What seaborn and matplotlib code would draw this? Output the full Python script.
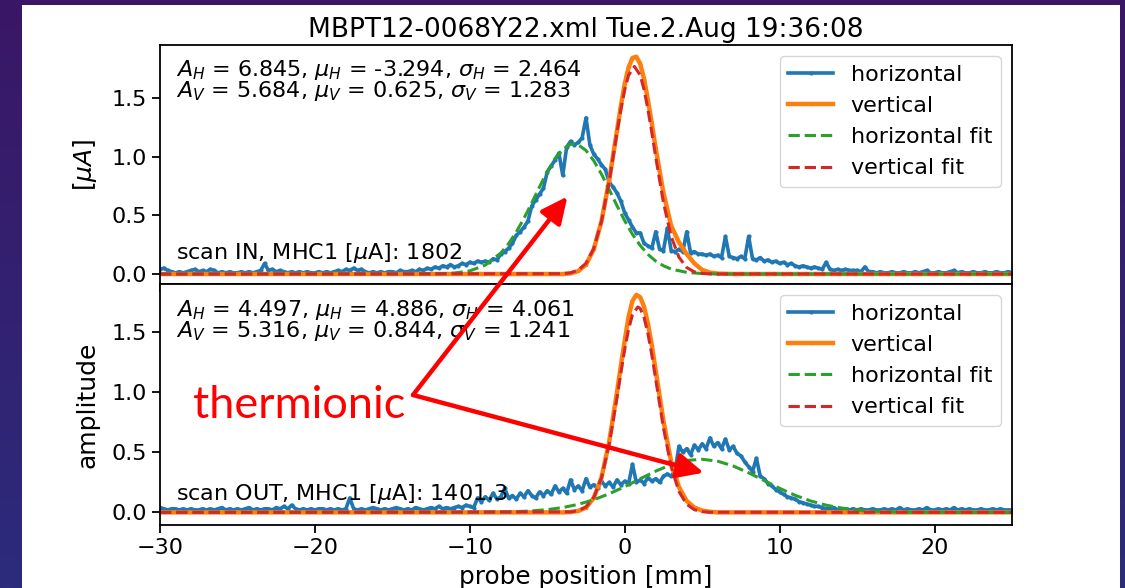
import numpy as np
import matplotlib
matplotlib.use("Agg")
import matplotlib.pyplot as plt
from matplotlib.patches import Rectangle
from matplotlib.colors import LinearSegmentedColormap
import seaborn as sns

# ---------------- data ----------------
probe_start, probe_stop = -30.0, 25.0   # probe positions of the raw samples (0.25 mm step)

horiz_in = [
    0.04, 0.05, 0.03, 0.02,   # -30
    0.01, 0.02, 0.01, 0.02,   # -29
    0.03, 0.04, 0.02, 0.03,   # -28
    0.02, 0.04, 0.03, 0.01,   # -27
    0.02, 0.01, 0.02, 0.01,   # -26
    0.01, 0.02, 0.01, 0.02,   # -25
    0.01, 0.02, 0.03, 0.09,   # -24
    0.03, 0.04, 0.02, 0.03,   # -23
    0.02, 0.01, 0.02, 0.01,   # -22
    0.02, 0.01, 0.02, 0.01,   # -21
    0.01, 0.02, 0.01, 0.02,   # -20
    0.01, 0.02, 0.03, 0.02,   # -19
    0.04, 0.03, 0.05, 0.03,   # -18
    0.04, 0.02, 0.01, 0.02,   # -17
    0.01, 0.02, 0.01, 0.02,   # -16
    0.02, 0.01, 0.03, 0.02,   # -15
    0.02, 0.03, 0.02, 0.04,   # -14
    0.03, 0.05, 0.04, 0.06,   # -13
    0.05, 0.07, 0.06, 0.08,   # -12
    0.06, 0.07, 0.09, 0.08,   # -11
    0.10, 0.09, 0.11, 0.10,   # -10
    0.11, 0.10, 0.13, 0.12,   # -9
    0.17, 0.19, 0.22, 0.26,   # -8
    0.33, 0.36, 0.40, 0.45,   # -7
    0.58, 0.63, 0.68, 0.73,   # -6
    0.87, 0.92, 0.97, 1.03,   # -5
    0.84, 1.08, 1.13, 1.10,   # -4
    1.12, 1.16, 1.33, 1.10,   # -3
    1.02, 0.98, 0.93, 0.89,   # -2
    0.78, 0.74, 0.69, 0.62,   # -1
    0.52, 0.46, 0.40, 0.35,   # 0
    0.35, 0.26, 0.24, 0.22,   # 1
    0.36, 0.21, 0.20, 0.39,   # 2
    0.20, 0.19, 0.21, 0.19,   # 3
    0.36, 0.18, 0.19, 0.17,   # 4
    0.17, 0.16, 0.17, 0.15,   # 5
    0.16, 0.14, 0.32, 0.15,   # 6
    0.14, 0.13, 0.15, 0.13,   # 7
    0.32, 0.13, 0.12, 0.14,   # 8
    0.11, 0.12, 0.10, 0.11,   # 9
    0.09, 0.10, 0.08, 0.09,   # 10
    0.07, 0.06, 0.07, 0.06,   # 11
    0.05, 0.06, 0.05, 0.04,   # 12
    0.10, 0.04, 0.03, 0.04,   # 13
    0.03, 0.04, 0.03, 0.03,   # 14
    0.03, 0.02, 0.06, 0.02,   # 15
    0.02, 0.01, 0.02, 0.01,   # 16
    0.01, 0.02, 0.01, 0.01,   # 17
    0.02, 0.01, 0.01, 0.02,   # 18
    0.01, 0.02, 0.03, 0.01,   # 19
    0.01, 0.02, 0.01, 0.01,   # 20
    0.02, 0.03, 0.01, 0.02,   # 21
    0.01, 0.01, 0.02, 0.01,   # 22
    0.01, 0.02, 0.01, 0.01,   # 23
    0.02, 0.01, 0.01, 0.02,   # 24
    0.01,                     # 25
]

horiz_out = [
    0.04, 0.03, 0.02, 0.03,   # -30
    0.03, 0.02, 0.03, 0.02,   # -29
    0.03, 0.02, 0.02, 0.03,   # -28
    0.02, 0.03, 0.02, 0.03,   # -27
    0.04, 0.02, 0.03, 0.02,   # -26
    0.03, 0.02, 0.03, 0.04,   # -25
    0.02, 0.03, 0.02, 0.03,   # -24
    0.03, 0.02, 0.04, 0.03,   # -23
    0.05, 0.03, 0.06, 0.03,   # -22
    0.02, 0.03, 0.02, 0.03,   # -21
    0.02, 0.03, 0.03, 0.02,   # -20
    0.03, 0.02, 0.03, 0.02,   # -19
    0.03, 0.12, 0.03, 0.02,   # -18
    0.03, 0.02, 0.03, 0.04,   # -17
    0.03, 0.02, 0.03, 0.02,   # -16
    0.03, 0.04, 0.03, 0.02,   # -15
    0.03, 0.02, 0.04, 0.03,   # -14
    0.02, 0.03, 0.04, 0.03,   # -13
    0.05, 0.03, 0.04, 0.03,   # -12
    0.04, 0.05, 0.04, 0.06,   # -11
    0.05, 0.04, 0.12, 0.09,   # -10
    0.13, 0.10, 0.16, 0.11,   # -9
    0.13, 0.20, 0.12, 0.14,   # -8
    0.11, 0.16, 0.13, 0.18,   # -7
    0.14, 0.12, 0.17, 0.14,   # -6
    0.18, 0.15, 0.22, 0.17,   # -5
    0.20, 0.16, 0.27, 0.19,   # -4
    0.22, 0.18, 0.28, 0.21,   # -3
    0.23, 0.20, 0.26, 0.22,   # -2
    0.25, 0.21, 0.27, 0.23,   # -1
    0.26, 0.24, 0.40, 0.25,   # 0
    0.27, 0.24, 0.29, 0.26,   # 1
    0.28, 0.25, 0.30, 0.32,   # 2
    0.30, 0.35, 0.55, 0.50,   # 3
    0.53, 0.48, 0.56, 0.52,   # 4
    0.57, 0.53, 0.62, 0.55,   # 5
    0.58, 0.53, 0.61, 0.52,   # 6
    0.55, 0.49, 0.47, 0.42,   # 7
    0.38, 0.34, 0.45, 0.30,   # 8
    0.28, 0.24, 0.22, 0.19,   # 9
    0.17, 0.15, 0.13, 0.12,   # 10
    0.11, 0.09, 0.08, 0.07,   # 11
    0.06, 0.05, 0.05, 0.04,   # 12
    0.03, 0.03, 0.04, 0.02,   # 13
    0.02, 0.03, 0.02, 0.03,   # 14
    0.02, 0.03, 0.02, 0.02,   # 15
    0.03, 0.02, 0.02, 0.03,   # 16
    0.02, 0.03, 0.02, 0.04,   # 17
    0.02, 0.03, 0.02, 0.02,   # 18
    0.03, 0.02, 0.04, 0.02,   # 19
    0.02, 0.03, 0.02, 0.03,   # 20
    0.02, 0.04, 0.02, 0.03,   # 21
    0.02, 0.03, 0.02, 0.02,   # 22
    0.03, 0.02, 0.02, 0.03,   # 23
    0.02, 0.03, 0.02, 0.02,   # 24
    0.02,                     # 25
]

vert_in_x = [-30, -4, -3.5, -3, -2.5, -2, -1.5, -1, -0.5, -0.25, 0, 0.25, 0.5, 0.75,
             1, 1.25, 1.5, 1.75, 2, 2.5, 3, 3.5, 4, 4.5, 5, 5.5, 6, 7, 25]
vert_in = [0, 0, 0.005, 0.025, 0.08, 0.21, 0.45, 0.80, 1.22, 1.43, 1.62, 1.76, 1.84, 1.85,
           1.79, 1.66, 1.48, 1.28, 1.07, 0.69, 0.41, 0.27, 0.17, 0.09, 0.035, 0.012, 0.004, 0, 0]

vert_out_x = [-30, -4, -3.5, -3, -2.5, -2, -1.5, -1, -0.5, -0.25, 0, 0.25, 0.5, 0.75,
              1, 1.25, 1.5, 1.75, 2, 2.5, 3, 3.5, 4, 4.5, 5, 5.5, 6, 25]
vert_out = [0, 0, 0.003, 0.012, 0.04, 0.12, 0.29, 0.59, 1.00, 1.22, 1.43, 1.63, 1.76, 1.81,
            1.79, 1.71, 1.57, 1.39, 1.18, 0.76, 0.42, 0.21, 0.095, 0.04, 0.015, 0.005, 0, 0]

hfit_in_x = [-30, -14, -13, -12, -11, -10, -9, -8, -7.5, -7, -6.5, -6, -5.5, -5, -4.5, -4,
             -3.5, -3.294, -3, -2.5, -2, -1.5, -1, -0.5, 0, 0.5, 1, 1.5, 2, 2.5, 3, 4, 5, 6, 8, 25]
hfit_in = [0, 0.0001, 0.0005, 0.002, 0.008, 0.027, 0.076, 0.179, 0.258, 0.358, 0.475, 0.606,
           0.742, 0.872, 0.983, 1.063, 1.104, 1.108, 1.100, 1.052, 0.965, 0.850, 0.718, 0.582,
           0.453, 0.338, 0.243, 0.167, 0.110, 0.070, 0.042, 0.014, 0.004, 0.001, 0, 0]

vfit_in_x = [-30, -4, -3.5, -3, -2.5, -2, -1.5, -1, -0.5, -0.25, 0, 0.25, 0.625, 1, 1.25,
             1.5, 1.75, 2, 2.5, 3, 3.5, 4, 4.5, 5, 5.5, 25]
vfit_in = [0, 0.003, 0.010, 0.033, 0.091, 0.218, 0.449, 0.792, 1.203, 1.400, 1.569, 1.693,
           1.767, 1.693, 1.569, 1.400, 1.203, 0.995, 0.607, 0.319, 0.143, 0.055, 0.018, 0.005,
           0.001, 0]

hfit_out_x = [-30, -12, -10, -8, -7, -6, -5, -4, -3, -2, -1, 0, 1, 2, 3, 4, 5, 6, 7, 8, 9,
              10, 11, 12, 13, 14, 15, 16, 17, 18, 20, 22, 25]
hfit_out = [0, 0.0001, 0.0005, 0.003, 0.006, 0.012, 0.023, 0.040, 0.067, 0.105, 0.155, 0.214,
            0.280, 0.343, 0.397, 0.432, 0.442, 0.426, 0.386, 0.329, 0.265, 0.200, 0.142, 0.095,
            0.060, 0.036, 0.020, 0.010, 0.005, 0.002, 0.0004, 0.0001, 0]

vfit_out_x = [-30, -3.5, -3, -2.5, -2, -1.5, -1, -0.5, -0.25, 0, 0.25, 0.5, 0.844, 1, 1.25,
              1.5, 1.75, 2, 2.5, 3, 3.5, 4, 4.5, 5, 5.5, 25]
vfit_out = [0, 0.004, 0.014, 0.045, 0.124, 0.287, 0.567, 0.951, 1.159, 1.356, 1.524, 1.645,
            1.709, 1.696, 1.620, 1.486, 1.309, 1.107, 0.702, 0.378, 0.173, 0.067, 0.022, 0.006,
            0.001, 0]

title = "MBPT12-0068Y22.xml Tue.2.Aug 19:36:08"
params_in = [r"$A_H$ = 6.845, $\mu_H$ = -3.294, $\sigma_H$ = 2.464",
             r"$A_V$ = 5.684, $\mu_V$ = 0.625, $\sigma_V$ = 1.283"]
params_out = [r"$A_H$ = 4.497, $\mu_H$ = 4.886, $\sigma_H$ = 4.061",
              r"$A_V$ = 5.316, $\mu_V$ = 0.844, $\sigma_V$ = 1.241"]
scan_in = r"scan IN, MHC1 [$\mu$A]: 1802"
scan_out = r"scan OUT, MHC1 [$\mu$A]: 1401.3"
legend_labels = ["horizontal", "vertical", "horizontal fit", "vertical fit"]
x_ticks = [-30, -20, -10, 0, 10, 20]
y_ticks = [0.0, 0.5, 1.0, 1.5]

# ---------------- style ----------------
plt.rcParams.update({
    "font.size": 16,
    "axes.linewidth": 1.3,
    "xtick.major.size": 5.6, "ytick.major.size": 5.6,
    "xtick.major.width": 1.3, "ytick.major.width": 1.3,
    "legend.fontsize": 16,
})
plt.rcParams["font.family"] = ["DejaVu Sans"]

W, H = 1125, 588
fig = plt.figure(figsize=(W / 100, H / 100), dpi=100)

# slide background (purple gradient) and white plot card
bg = fig.add_axes([0, 0, 1, 1], zorder=-10)
grad = np.linspace(0, 1, 256)[:, None]
cmap = LinearSegmentedColormap.from_list("slide", ["#3a1766", "#2c2b7c"])
bg.imshow(grad, aspect="auto", cmap=cmap, extent=[0, 1, 0, 1], origin="upper")
bg.set_axis_off()
fig.add_artist(Rectangle((22 / W, 0), (1120 - 22) / W, (H - 5) / H, transform=fig.transFigure,
                         facecolor="white", edgecolor="none", zorder=-5))

left, right = 160 / W, 1012 / W
y_top, y_mid, y_bot = 1 - 45 / H, 1 - 284 / H, 1 - 525 / H
ax_top = fig.add_axes([left, y_mid, right - left, y_top - y_mid])
ax_bot = fig.add_axes([left, y_bot, right - left, y_mid - y_bot], sharex=ax_top)

blue, orange, green, red = "#1f77b4", "#ff7f0e", "#2ca02c", "#d62728"


def draw(ax, horiz, vx, vert, hfx, hf, vfx, vf):
    px = np.linspace(probe_start, probe_stop, len(horiz))
    sns.lineplot(x=px, y=horiz, ax=ax, color=blue, linewidth=2.6, marker=".", markersize=6,
                 markeredgewidth=0, label=legend_labels[0], errorbar=None)
    sns.lineplot(x=vx, y=vert, ax=ax, color=orange, linewidth=3.2, marker=".", markersize=5,
                 markeredgewidth=0, label=legend_labels[1], errorbar=None)
    sns.lineplot(x=hfx, y=hf, ax=ax, color=green, linewidth=2.2, linestyle="--",
                 label=legend_labels[2], errorbar=None)
    sns.lineplot(x=vfx, y=vf, ax=ax, color=red, linewidth=2.2, linestyle="--",
                 label=legend_labels[3], errorbar=None)
    ax.legend(loc="upper right")
    ax.set_yticks(y_ticks)


draw(ax_top, horiz_in, vert_in_x, vert_in, hfit_in_x, hfit_in, vfit_in_x, vfit_in)
draw(ax_bot, horiz_out, vert_out_x, vert_out, hfit_out_x, hfit_out, vfit_out_x, vfit_out)

ax_top.set_xlim(-30, 25)
ax_top.set_ylim(-0.085, 1.95)
ax_bot.set_ylim(-0.105, 1.90)
ax_bot.set_xticks(x_ticks)
plt.setp(ax_top.get_xticklabels(), visible=False)
ax_top.set_xlabel("")
ax_bot.set_xlabel("probe position [mm]", fontsize=17.8, labelpad=5)
ax_top.set_ylabel(r"[$\mu A$]", fontsize=18, labelpad=9)
ax_bot.set_ylabel("amplitude", fontsize=18, labelpad=9)
ax_top.set_title(title, fontsize=19)

for ax, params, scan, ytop in ((ax_top, params_in, scan_in, 0.945),
                               (ax_bot, params_out, scan_out, 0.942)):
    ax.text(0.019, ytop, "\n".join(params), transform=ax.transAxes, va="top", ha="left",
            fontsize=16, linespacing=0.82)
    ax.text(0.019, 0.13, scan, transform=ax.transAxes, va="center", ha="left", fontsize=16)

# slide overlay: "thermionic" with arrows
fig.text(193 / W, 1 - 418 / H, "thermionic", color="red", fontsize=32.5,
         family=["Lato", "DejaVu Sans"], va="baseline", ha="left")
start = (413 / W, 1 - 395 / H)
arrow_kw = dict(arrowstyle="-|>,head_length=0.8,head_width=0.38", color="red", lw=3.2,
                shrinkA=0, shrinkB=0, mutation_scale=20)
ax_bot.annotate("", xy=(-3.7, 0.66), xycoords=ax_top.transData, xytext=start,
                textcoords="figure fraction", arrowprops=arrow_kw, annotation_clip=False)
ax_bot.annotate("", xy=(5.1, 0.33), xycoords="data", xytext=start,
                textcoords="figure fraction", arrowprops=arrow_kw, annotation_clip=False)

fig.savefig("out.png", dpi=100)
